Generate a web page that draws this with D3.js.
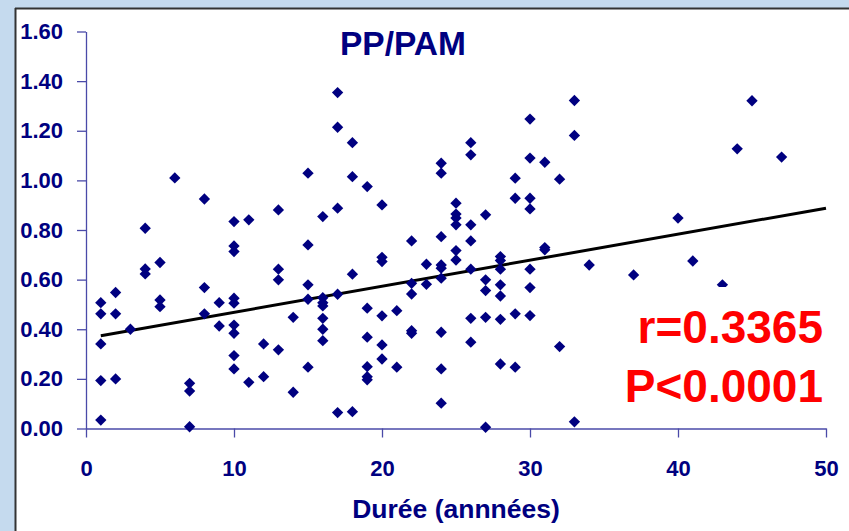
<!DOCTYPE html>
<html>
<head>
<meta charset="utf-8">
<script src="https://cdn.jsdelivr.net/npm/d3@7"></script>
<style>
  html, body { margin: 0; padding: 0; background: #c5daee; }
  svg { display: block; }
</style>
</head>
<body>
<svg id="chart" width="849" height="531"></svg>
<script>
// ---- Data ----
const duree = [
  1,1,1,1,1, 2,2,2, 3, 4,4,4, 5,5,5, 6, 7,7,7, 8,8,8, 9,9,
  10,10,10,10,10,10,10,10,10, 11,11, 12,12, 13,13,13,13, 14,14,
  15,15,15,15,15, 16,16,16,16,16,16,16, 17,17,17,17,17, 18,18,18,18,
  19,19,19,19,19,19, 20,20,20,20,20,20, 21,21, 22,22,22,22,22, 23,23,
  24,24,24,24,24,24,24,24,24, 25,25,25,25,25,25, 26,26,26,26,26,26,26,
  27,27,27,27,27, 28,28,28,28,28,28,28, 29,29,29,29, 30,30,30,30,30,30,30,
  31,31,31, 32,32, 33,33,33, 34, 37, 40, 41, 43, 44, 45, 47
];
const ppPam = [
  0.507,0.462,0.341,0.193,0.034, 0.548,0.462,0.200, 0.400, 0.807,0.643,0.623, 0.669,0.518,0.491, 1.010, 0.182,0.151,0.007, 0.925,0.568,0.462, 0.507,0.413,
  0.834,0.736,0.713,0.525,0.505,0.417,0.384,0.294,0.240, 0.841,0.186, 0.341,0.209, 0.881,0.642,0.599,0.317, 0.448,0.146,
  1.029,0.740,0.579,0.521,0.247, 0.854,0.527,0.507,0.494,0.444,0.400,0.354, 1.354,1.214,0.888,0.541,0.064, 1.152,1.015,0.622,0.068,
  0.975,0.485,0.368,0.249,0.209,0.196, 0.901,0.690,0.673,0.454,0.337,0.280, 0.475,0.247, 0.756,0.585,0.542,0.394,0.384, 0.662,0.581,
  1.069,1.029,0.773,0.659,0.646,0.606,0.388,0.240,0.102, 0.908,0.864,0.848,0.821,0.717,0.679, 1.152,1.103,0.821,0.756,0.642,0.444,0.348,
  0.861,0.599,0.556,0.448,0.005, 0.693,0.677,0.642,0.579,0.534,0.440,0.260, 1.009,0.928,0.462,0.247, 1.247,1.090,0.928,0.885,0.642,0.568,0.455,
  1.073,0.729,0.720, 1.005,0.330, 1.322,1.181,0.027, 0.659, 0.619, 0.848, 0.675, 0.579, 1.127, 1.321, 1.094
];
const trendX = [1, 50];
const trendY = [0.374, 0.888];
const xTicks = [0, 10, 20, 30, 40, 50];
const yTicks = [0.0, 0.2, 0.4, 0.6, 0.8, 1.0, 1.2, 1.4, 1.6];
const title = "PP/PAM";
const xTitle = "Durée (annnées)";
const statLines = ["r=0.3365", "P<0.0001"];

// ---- Layout ----
const svg = d3.select("#chart");
const W = 849, H = 531;
const plot = { left: 86, right: 826, top: 31.5, bottom: 428.5 };
const navy = "#000080";
const axisColor = "#4a4aa8";
const font = "'Liberation Sans', Arial, sans-serif";

// background panel
svg.append("rect").attr("x", 0).attr("y", 0).attr("width", W).attr("height", H).attr("fill", "#c5daee");
svg.append("rect").attr("x", 16).attr("y", 9).attr("width", W).attr("height", H).attr("fill", "#ffffff");
svg.append("line").attr("x1", 15).attr("x2", W).attr("y1", 8.5).attr("y2", 8.5).attr("stroke", "#333").attr("stroke-width", 2);
svg.append("line").attr("x1", 15.5).attr("x2", 15.5).attr("y1", 8).attr("y2", H).attr("stroke", "#333").attr("stroke-width", 2);

const x = d3.scaleLinear().domain([0, 50]).range([plot.left, plot.right]);
const y = d3.scaleLinear().domain([0, 1.6]).range([plot.bottom, plot.top]);

// axes
const yAxis = d3.axisLeft(y).tickValues(yTicks).tickFormat(d3.format(".2f"))
  .tickSize(9).tickSizeOuter(0).tickPadding(14);
const xAxis = d3.axisBottom(x).tickValues(xTicks).tickFormat(d3.format("d"))
  .tickSize(9).tickSizeOuter(0).tickPadding(23);

const gy = svg.append("g").attr("transform", `translate(${plot.left},0)`).call(yAxis);
const gx = svg.append("g").attr("transform", `translate(0,${plot.bottom})`).call(xAxis);
[gx, gy].forEach(g => {
  g.selectAll("path.domain").attr("stroke", axisColor).attr("stroke-width", 1.3);
  g.selectAll(".tick line").attr("stroke", axisColor).attr("stroke-width", 1.3);
  g.selectAll(".tick text").attr("fill", navy).attr("font-family", font)
    .attr("font-weight", "bold").attr("font-size", 22);
});

// trend line
const trend = trendX.map((v, i) => ({ x: v, y: trendY[i] }));
svg.append("path").datum(trend)
  .attr("d", d3.line().x(d => x(d.x)).y(d => y(d.y)))
  .attr("stroke", "#000").attr("stroke-width", 3).attr("fill", "none");

// points
const pts = duree.map((v, i) => ({ x: v, y: ppPam[i] }));
const sym = d3.symbol().type(d3.symbolSquare).size(64);
svg.append("g").selectAll("path").data(pts).join("path")
  .attr("d", sym)
  .attr("transform", d => `translate(${x(d.x)},${y(d.y)}) rotate(45)`)
  .attr("fill", navy);

// title
svg.append("text").attr("x", 403).attr("y", 55).attr("text-anchor", "middle")
  .attr("fill", navy).attr("font-family", font).attr("font-weight", "bold")
  .attr("font-size", 33.5).text(title);

// x axis title
svg.append("text").attr("x", (plot.left + plot.right) / 2).attr("y", 518)
  .attr("text-anchor", "middle").attr("fill", navy).attr("font-family", font)
  .attr("font-weight", "bold").attr("font-size", 26.5).text(xTitle);

// stats box
svg.append("rect").attr("x", 600).attr("y", 287).attr("width", 236).attr("height", 123).attr("fill", "#ffffff");
svg.append("g").selectAll("text").data(statLines).join("text")
  .attr("x", 823).attr("y", (d, i) => 343 + i * 59)
  .attr("text-anchor", "end").attr("fill", "#ff0000").attr("font-family", font)
  .attr("font-weight", "bold").attr("font-size", 46).text(d => d);
</script>
</body>
</html>
